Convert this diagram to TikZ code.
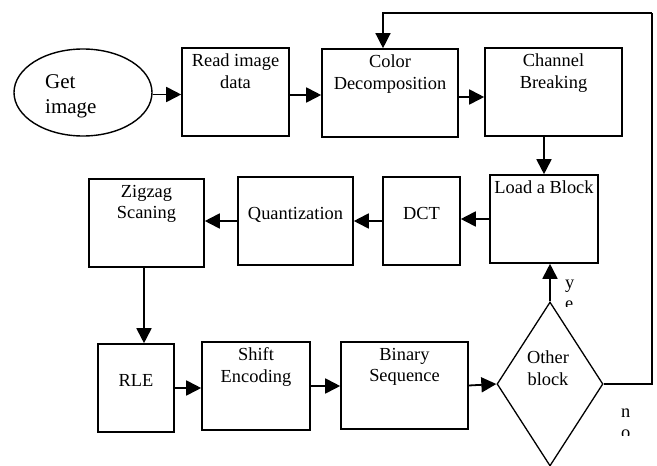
\documentclass[tikz,border=0pt]{standalone}
\usepackage{fontspec}
\setmainfont{Liberation Serif}
\usetikzlibrary{shapes.geometric,arrows.meta}
\newcommand\boxfs{\fontsize{18.4}{21.5}\selectfont}
\newcommand\ellfs{\fontsize{21}{25}\selectfont}
\begin{document}
\begin{tikzpicture}[x=1pt,y=-1pt,
  box/.style={draw, line width=1.6pt, inner sep=0pt},
  arr/.style={line width=1.8pt, -{Triangle[length=15pt,width=15pt]}},
  thin/.style={line width=1.3pt},
  txt/.style={font=\boxfs, align=center, inner sep=0pt, anchor=north},
  toptxt/.style={label={[txt, yshift=-6.5pt]north:{#1}}},
  midtxt/.style={label={[txt, yshift=-31pt]north:{#1}}},
]
\useasboundingbox (0,0) rectangle (657,466);

% start ellipse
\node[draw, ellipse, line width=1.4pt, minimum width=138pt, minimum height=87pt, inner sep=0pt]
  (ell) at (83,92.5) {};
\node[font=\ellfs, align=left, inner sep=0pt, anchor=north west] (elltxt) at (45,74.5) {Get\\image};

% top row
\node[box, minimum width=107pt, minimum height=88pt, toptxt={Read image\\data}] (read) at (235.5,92) {};
\node[box, minimum width=136pt, minimum height=88pt, toptxt={Color\\Decomposition}] (color) at (390,93) {};
\node[box, minimum width=137pt, minimum height=88pt, toptxt={Channel\\Breaking}] (chan) at (553.5,92) {};

% middle row
\node[box, minimum width=108pt, minimum height=88pt, toptxt={Load a Block}] (load) at (544,219) {};
\node[box, minimum width=77pt, minimum height=88pt, midtxt={DCT}] (dct) at (421.5,221) {};
\node[box, minimum width=115pt, minimum height=88pt, midtxt={Quantization}] (quant) at (295.5,221) {};
\node[box, minimum width=115pt, minimum height=88pt, toptxt={Zigzag\\Scaning}] (zig) at (146.5,223) {};

% bottom row
\node[box, minimum width=76pt, minimum height=88pt, midtxt={RLE}] (rle) at (136,388) {};
\node[box, minimum width=108pt, minimum height=88pt, toptxt={Shift\\Encoding}] (shift) at (256,386) {};
\node[box, minimum width=127pt, minimum height=87pt, toptxt={Binary\\Sequence}] (bin) at (404.5,385.5) {};
\node[draw, diamond, thin, minimum width=106pt, minimum height=164pt, inner sep=0pt,
  label={[txt, yshift=16pt, xshift=-2pt]center:{Other\\block}}] (dia) at (550,384) {};

% connectors
\draw[arr] ([yshift=-2pt]ell.east) -- ([yshift=-2pt]ell.east -| read.west);
\draw[arr] ([yshift=-3pt]read.east) -- ([yshift=-3pt]read.east -| color.west);
\draw[arr] ([yshift=-4pt]color.east) -- ([yshift=-4pt]color.east -| chan.west);
\draw[arr] (chan.south -| load.north) -- (load.north);
\draw[arr] (load.west) -- (load.west -| dct.east);
\draw[arr] (dct.west) -- (dct.west -| quant.east);
\draw[arr] (quant.west) -- (quant.west -| zig.east);
\draw[arr] ([xshift=-2.5pt]zig.south) -- ([xshift=-2.5pt]zig.south |- rle.north);
\draw[arr] (rle.east) -- (rle.east -| shift.west);
\draw[arr] (shift.east) -- (shift.east -| bin.west);
\draw[arr] (bin.east) -- (dia.west);
\draw[arr] (dia.north) -- (dia.north |- load.south);
\coordinate (fb) at (652,13);
\draw[thin] (dia.east) -| (fb);
\draw[arr, line width=1.3pt] (fb) -| ([xshift=-7pt]color.north);

% clipped branch labels
\begin{scope}
\clip (555,266) rectangle (600,306.5);
\node[txt, anchor=base west, align=left] (yes) at (565,309.5) {y\\e};
\end{scope}
\begin{scope}
\clip (610,395) rectangle (650,435);
\node[txt, anchor=base west, align=left] (no) at (621,438.5) {n\\o};
\end{scope}
\end{tikzpicture}
\end{document}
